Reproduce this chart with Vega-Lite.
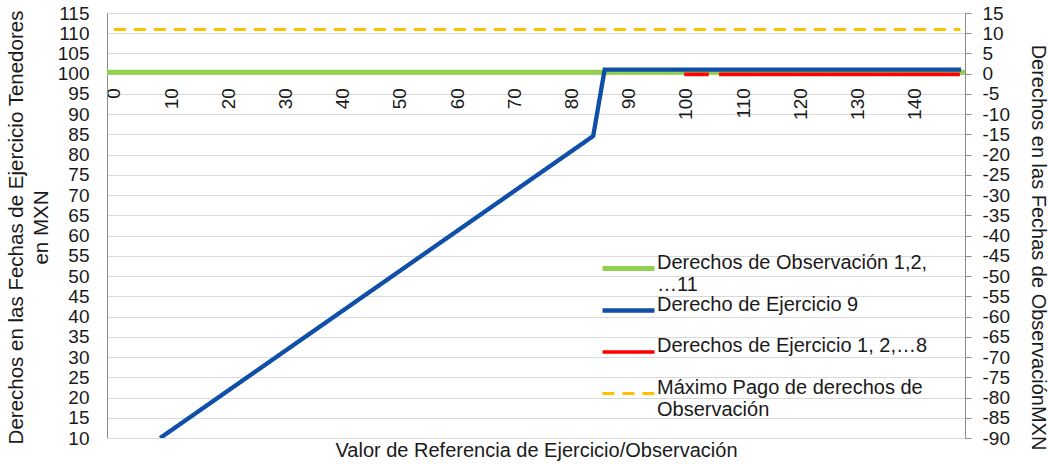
{
  "$schema": "https://vega.github.io/schema/vega-lite/v6.json",
  "width": 858,
  "height": 425,
  "autosize": {"type": "none"},
  "padding": {"left": 107, "top": 13, "right": 83, "bottom": 26},
  "background": "white",
  "config": {
    "view": {"stroke": null},
    "font": "Liberation Sans",
    "axis": {"labelFont": "Liberation Sans", "titleFont": "Liberation Sans", "labelColor": "#1a1a1a", "titleColor": "#1a1a1a", "titleFontWeight": "normal", "labelFontSize": 19, "titleFontSize": 20},
    "legend": {"labelFont": "Liberation Sans", "labelColor": "#1a1a1a"}
  },
  "datasets": {
    "right": [
      {"series": "Derechos de Observación 1,2, …11", "x": -1.2, "y": 0.35, "seg": "g"},
      {"series": "Derechos de Observación 1,2, …11", "x": 148.8, "y": 0.35, "seg": "g"},
      {"series": "Derechos de Ejercicio 1, 2,…8", "x": 99.7, "y": -0.15, "seg": "r1"},
      {"series": "Derechos de Ejercicio 1, 2,…8", "x": 104.0, "y": -0.15, "seg": "r1"},
      {"series": "Derechos de Ejercicio 1, 2,…8", "x": 105.8, "y": -0.15, "seg": "r2"},
      {"series": "Derechos de Ejercicio 1, 2,…8", "x": 147.9, "y": -0.15, "seg": "r2"},
      {"series": "Máximo Pago de derechos de Observación", "x": 0, "y": 10.9, "seg": "o"},
      {"series": "Máximo Pago de derechos de Observación", "x": 148, "y": 10.9, "seg": "o"}
    ],
    "left": [
      {"series": "Derecho de Ejercicio 9", "x": 8.1, "y": 10, "seg": "b"},
      {"series": "Derecho de Ejercicio 9", "x": 83.8, "y": 84.6, "seg": "b"},
      {"series": "Derecho de Ejercicio 9", "x": 85.8, "y": 101.0, "seg": "b"},
      {"series": "Derecho de Ejercicio 9", "x": 148.1, "y": 101.0, "seg": "b"}
    ]
  },
  "layer": [
    {
      "data": {"name": "right"},
      "mark": {"type": "line", "clip": true},
      "encoding": {
        "x": {
          "field": "x", "type": "quantitative",
          "scale": {"domain": [-1.2, 148.8], "nice": false, "zero": false},
          "axis": {"orient": "bottom", "offset": -364.3, "values": [0,10,20,30,40,50,60,70,80,90,100,110,120,130,140], "labelAngle": -90, "domain": false, "ticks": false, "grid": false, "labelPadding": 14, "title": "Valor de Referencia de Ejercicio/Observación", "titleY": 383, "titleBaseline": "alphabetic"}
        },
        "y": {
          "field": "y", "type": "quantitative",
          "scale": {"domain": [-90, 15], "nice": false, "zero": false},
          "axis": {"orient": "right", "values": [-90,-85,-80,-75,-70,-65,-60,-55,-50,-45,-40,-35,-30,-25,-20,-15,-10,-5,0,5,10,15], "labelExpr": "'' + datum.value", "grid": false, "domainColor": "#8c8c8c", "tickColor": "#8c8c8c", "tickSize": 6, "labelPadding": 11, "title": "Derechos en las Fechas de ObservaciónMXN", "titleAngle": 90, "titleX": 72, "titleY": 234, "titleAlign": "center", "titleBaseline": "middle"}
        },
        "detail": {"field": "seg"},
        "color": {
          "field": "series", "type": "nominal",
          "scale": {"domain": ["Derechos de Observación 1,2, …11", "Derecho de Ejercicio 9", "Derechos de Ejercicio 1, 2,…8", "Máximo Pago de derechos de Observación"], "range": ["#92d050", "#0f4fa8", "#ff0000", "#ffc000"]},
          "legend": {"orient": "none", "legendX": 506, "legendY": 240, "title": null, "symbolType": "M-2,0L2,0", "symbolSize": 676, "labelFontSize": 20, "labelLimit": 400, "labelOffset": 13, "labelBaseline": "alphabetic", "gridAlign": "all", "rowPadding": -2, "padding": 0, "labelExpr": "datum.label == 'Derechos de Observación 1,2, …11' ? ['Derechos de Observación 1,2,', '…11'] : datum.label == 'Máximo Pago de derechos de Observación' ? ['Máximo Pago de derechos de', 'Observación'] : datum.label"}
        },
        "strokeDash": {
          "field": "series", "type": "nominal",
          "scale": {"domain": ["Derechos de Observación 1,2, …11", "Derecho de Ejercicio 9", "Derechos de Ejercicio 1, 2,…8", "Máximo Pago de derechos de Observación"], "range": [[1, 0], [1, 0], [1, 0], [12, 8]]},
          "legend": {"orient": "none", "legendX": 506, "legendY": 240, "title": null, "symbolType": "M-2,0L2,0", "symbolSize": 676, "labelFontSize": 20, "labelLimit": 400, "labelOffset": 13, "labelBaseline": "alphabetic", "gridAlign": "all", "rowPadding": -2, "padding": 0, "labelExpr": "datum.label == 'Derechos de Observación 1,2, …11' ? ['Derechos de Observación 1,2,', '…11'] : datum.label == 'Máximo Pago de derechos de Observación' ? ['Máximo Pago de derechos de', 'Observación'] : datum.label"}
        },
        "strokeWidth": {
          "field": "series", "type": "nominal",
          "scale": {"domain": ["Derechos de Observación 1,2, …11", "Derecho de Ejercicio 9", "Derechos de Ejercicio 1, 2,…8", "Máximo Pago de derechos de Observación"], "range": [5, 3, 3, 3]},
          "legend": {"orient": "none", "legendX": 506, "legendY": 240, "title": null, "symbolType": "M-2,0L2,0", "symbolSize": 676, "labelFontSize": 20, "labelLimit": 400, "labelOffset": 13, "labelBaseline": "alphabetic", "gridAlign": "all", "rowPadding": -2, "padding": 0, "labelExpr": "datum.label == 'Derechos de Observación 1,2, …11' ? ['Derechos de Observación 1,2,', '…11'] : datum.label == 'Máximo Pago de derechos de Observación' ? ['Máximo Pago de derechos de', 'Observación'] : datum.label"}
        }
      }
    },
    {
      "data": {"name": "left"},
      "mark": {"type": "line", "clip": true},
      "encoding": {
        "x": {
          "field": "x", "type": "quantitative",
          "scale": {"domain": [-1.2, 148.8], "nice": false, "zero": false},
          "axis": {"orient": "bottom", "offset": -364.3, "values": [0,10,20,30,40,50,60,70,80,90,100,110,120,130,140], "labelAngle": -90, "domain": false, "ticks": false, "grid": false, "labelPadding": 14, "title": "Valor de Referencia de Ejercicio/Observación", "titleY": 383, "titleBaseline": "alphabetic"}
        },
        "y": {
          "field": "y", "type": "quantitative",
          "scale": {"domain": [10, 115], "nice": false, "zero": false},
          "axis": {"orient": "left", "values": [10,15,20,25,30,35,40,45,50,55,60,65,70,75,80,85,90,95,100,105,110,115], "grid": true, "gridColor": "#d9d9d9", "gridWidth": 1, "domainColor": "#8c8c8c", "ticks": false, "labelPadding": 18, "title": ["Derechos en las Fechas de Ejercicio Tenedores", "en MXN"], "titleFontSize": 20.5, "titleAngle": -90, "titleX": -91, "titleY": 214, "titleAlign": "center", "titleBaseline": "middle", "titleLineHeight": 25}
        },
        "detail": {"field": "seg"},
        "color": {"field": "series", "type": "nominal"},
        "strokeDash": {"field": "series", "type": "nominal"},
        "strokeWidth": {"field": "series", "type": "nominal"}
      }
    }
  ],
  "resolve": {"scale": {"y": "independent"}}
}
